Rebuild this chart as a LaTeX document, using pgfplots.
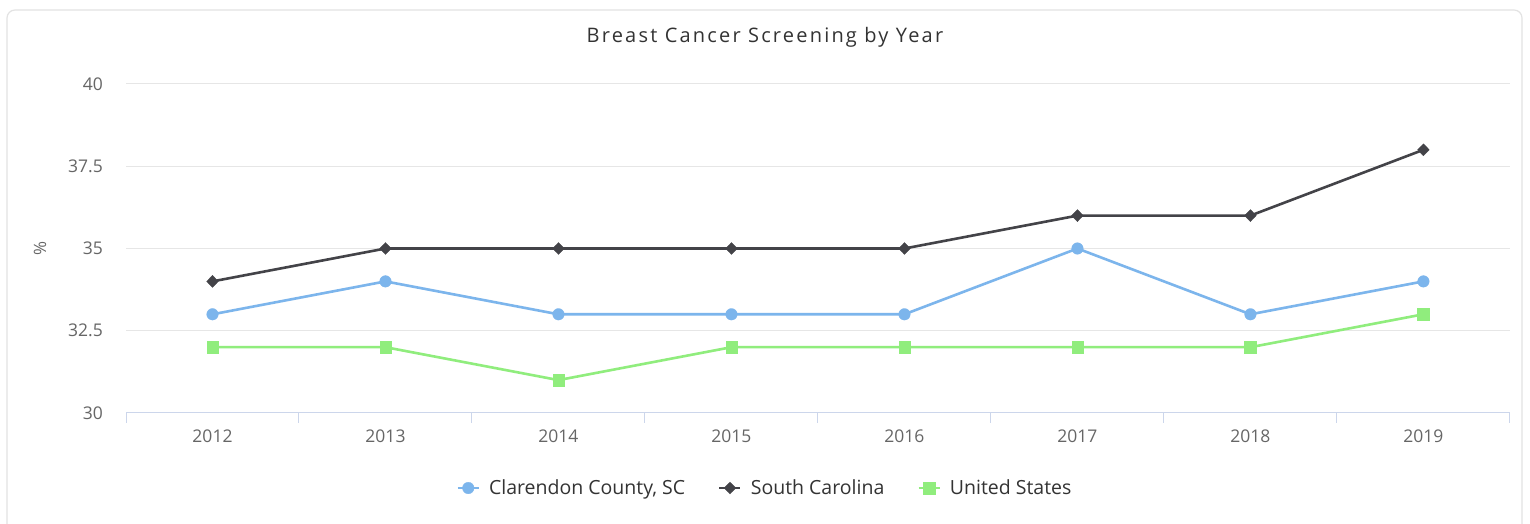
\documentclass[border=0pt]{standalone}
\usepackage{pgfplots}
\pgfplotsset{compat=1.18}
\usepackage{fontspec}
\setmainfont{Open Sans}
\definecolor{cblue}{HTML}{7CB5EC}
\definecolor{cdark}{HTML}{434348}
\definecolor{cgreen}{HTML}{90ED7D}
\definecolor{gridc}{HTML}{E6E6E6}
\definecolor{axisc}{HTML}{CCD6EB}
\definecolor{labc}{HTML}{666666}
\definecolor{titc}{HTML}{333333}
\definecolor{framec}{HTML}{E3E3E3}
\begin{document}
\begin{tikzpicture}
\useasboundingbox (0,0) rectangle (1530pt,524pt);
\fill[white] (0,0) rectangle (1530pt,524pt);
\begin{scope}
\clip (0,0) rectangle (1530pt,524pt);
\draw[framec, line width=1.2pt, rounded corners=8pt] (7pt,-20pt) rectangle (1522pt,514pt);
\end{scope}
\begin{axis}[
  at={(126pt,111pt)}, anchor=south west,
  scale only axis, width=1384pt, height=329pt,
  xmin=-0.5, xmax=7.5, ymin=30, ymax=40,
  xtick={0,1,2,3,4,5,6,7},
  xticklabels={2012,2013,2014,2015,2016,2017,2018,2019},
  ytick={30,32.5,35,37.5,40},
  yticklabels={30,32.5,35,37.5,40},
  axis x line*=bottom, axis y line*=left,
  x axis line style={draw=axisc, line width=1pt},
  y axis line style={draw=none},
  major tick length=0pt,
  xtick style={draw=axisc, line width=1pt},
  ytick style={draw=none},
  extra x ticks={-0.5,0.5,1.5,2.5,3.5,4.5,5.5,6.5,7.5},
  extra x tick labels={},
  extra x tick style={major tick length=10pt, tick align=outside},
  ymajorgrids, major grid style={draw=gridc, line width=1pt},
  xticklabel style={anchor=base, yshift=-30pt, font=\fontsize{17.5}{20}\selectfont, text=labc},
  yticklabel style={anchor=east, inner sep=0pt, xshift=-23pt, font=\fontsize{17.5}{20}\selectfont, text=labc},
  title={Breast Cancer Screening by Year},
  title style={at={(axis description cs:0.4617,1.125)}, anchor=center, font=\fontsize{20}{24}\selectfont\addfontfeature{LetterSpace=11}, text=titc},
  ylabel={\%},
  ylabel style={at={(axis description cs:-0.0621,0.5)}, anchor=center, font=\fontsize{17}{20}\selectfont, text=labc},
  legend columns=3,
  legend cell align=left,
  legend style={at={(axis description cs:0.4617,-0.228)}, anchor=center, draw=none, fill=none,
    font=\fontsize{19.5}{22}\selectfont, text=titc,
    /tikz/every odd column/.append style={column sep=7pt},
    /tikz/every even column/.append style={column sep=31pt}},
  legend image code/.code={\draw[mark repeat=2, mark phase=2, #1] plot coordinates {(0pt,0pt)(10.5pt,0pt)(21pt,0pt)};},
]
\addplot[cblue, line width=2.6pt, mark=*, mark size=5.8pt, mark options={line width=0.3pt}]
  coordinates {(0,33)(1,34)(2,33)(3,33)(4,33)(5,35)(6,33)(7,34)};
\addlegendentry{Clarendon County, SC}
\addplot[cdark, line width=2.6pt, mark=diamond*, mark size=6pt, mark options={line width=0.3pt, xscale=1.3}]
  coordinates {(0,34)(1,35)(2,35)(3,35)(4,35)(5,36)(6,36)(7,38)};
\addlegendentry{South Carolina}
\addplot[cgreen, line width=2.6pt, mark=square*, mark size=5.8pt, mark options={line width=0.3pt}]
  coordinates {(0,32)(1,32)(2,31)(3,32)(4,32)(5,32)(6,32)(7,33)};
\addlegendentry{United States}
\end{axis}
\end{tikzpicture}
\end{document}
